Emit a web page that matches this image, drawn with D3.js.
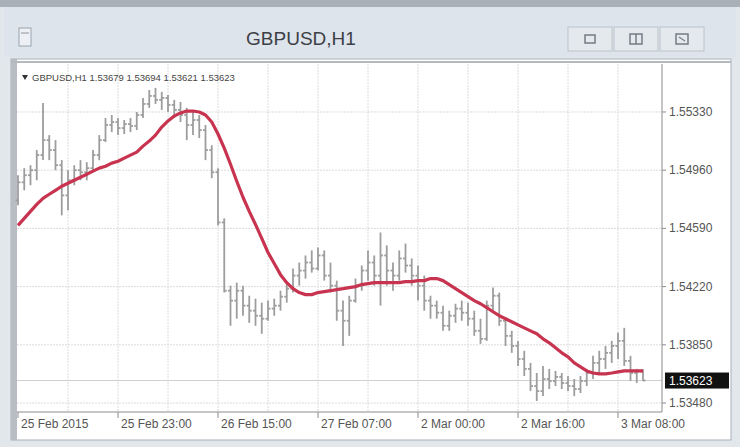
<!DOCTYPE html>
<html>
<head>
<meta charset="utf-8">
<script src="https://cdn.jsdelivr.net/npm/d3@7"></script>
<style>
    body { margin: 0; background: #e2e7ec; }
    svg { display: block; font-family: "Liberation Sans", Arial, sans-serif; }
</style>
</head>
<body>
<svg id="chart" width="740" height="447"></svg>
<script>
// chart title and axis texts
var symbol = "GBPUSD,H1";
var timeLabels = ["25 Feb 2015", "25 Feb 23:00", "26 Feb 15:00", "27 Feb 07:00", "2 Mar 00:00", "2 Mar 16:00", "3 Mar 08:00"];
var labelBars = [0, 16, 32, 48, 64, 80, 96];
var priceTicks = [1.55330, 1.54960, 1.54590, 1.54220, 1.53850, 1.53480];

// hourly bars
var openPrices = [
    1.54769, 1.54883, 1.54928, 1.54960, 1.55056, 1.55151, 1.55088, 1.54992, 1.54800, 1.54896,
    1.54960, 1.54947, 1.54973, 1.55056, 1.55151, 1.55247, 1.55266, 1.55228, 1.55253, 1.55241,
    1.55311, 1.55381, 1.55432, 1.55407, 1.55419, 1.55375, 1.55343, 1.55311, 1.55247, 1.55279,
    1.55215, 1.55088, 1.54947, 1.54628, 1.54194, 1.54131, 1.54194, 1.54099, 1.54067, 1.54035,
    1.54016, 1.54080, 1.54099, 1.54156, 1.54207, 1.54290, 1.54322, 1.54373, 1.54335, 1.54418,
    1.54290, 1.54226, 1.54067, 1.54003, 1.54131, 1.54226, 1.54322, 1.54373, 1.54290, 1.54418,
    1.54322, 1.54290, 1.54399, 1.54354, 1.54290, 1.54226, 1.54131, 1.54099, 1.54054, 1.53971,
    1.54035, 1.54080, 1.54054, 1.54016, 1.53939, 1.53888, 1.54099, 1.54162, 1.54003, 1.53907,
    1.53843, 1.53760, 1.53697, 1.53588, 1.53556, 1.53633, 1.53620, 1.53646, 1.53607, 1.53588,
    1.53569, 1.53620, 1.53671, 1.53735, 1.53760, 1.53799, 1.53843, 1.53875, 1.53748, 1.53671,
    1.53679
];
var highPrices = [
    1.54928, 1.54973, 1.54992, 1.55088, 1.55387, 1.55183, 1.55151, 1.55024, 1.54960, 1.54992,
    1.55024, 1.55011, 1.55088, 1.55183, 1.55292, 1.55311, 1.55292, 1.55279, 1.55292, 1.55330,
    1.55419, 1.55470, 1.55483, 1.55458, 1.55438, 1.55407, 1.55394, 1.55356, 1.55330, 1.55311,
    1.55247, 1.55119, 1.54973, 1.54654, 1.54226, 1.54245, 1.54226, 1.54162, 1.54143, 1.54118,
    1.54131, 1.54143, 1.54194, 1.54245, 1.54335, 1.54373, 1.54418, 1.54450, 1.54469, 1.54450,
    1.54373, 1.54258, 1.54131, 1.54162, 1.54271, 1.54354, 1.54450, 1.54418, 1.54564, 1.54482,
    1.54373, 1.54450, 1.54494, 1.54399, 1.54354, 1.54290, 1.54162, 1.54131, 1.54099, 1.54067,
    1.54111, 1.54131, 1.54118, 1.54067, 1.54016, 1.54131, 1.54214, 1.54182, 1.54016, 1.53939,
    1.53875, 1.53812, 1.53735, 1.53671, 1.53716, 1.53697, 1.53684, 1.53671, 1.53652, 1.53633,
    1.53652, 1.53697, 1.53780, 1.53812, 1.53843, 1.53875, 1.53926, 1.53958, 1.53780, 1.53697,
    1.53694
];
var lowPrices = [
    1.54737, 1.54832, 1.54864, 1.54896, 1.55024, 1.55024, 1.54960, 1.54673, 1.54705, 1.54864,
    1.54896, 1.54896, 1.54947, 1.55024, 1.55139, 1.55202, 1.55183, 1.55190, 1.55202, 1.55215,
    1.55292, 1.55356, 1.55381, 1.55343, 1.55330, 1.55292, 1.55266, 1.55151, 1.55183, 1.55164,
    1.55024, 1.54909, 1.54609, 1.54182, 1.53971, 1.54016, 1.54035, 1.53990, 1.53971, 1.53920,
    1.54003, 1.54035, 1.54067, 1.54118, 1.54182, 1.54226, 1.54271, 1.54309, 1.54322, 1.54258,
    1.54182, 1.54003, 1.53843, 1.53907, 1.54118, 1.54194, 1.54258, 1.54226, 1.54099, 1.54226,
    1.54194, 1.54258, 1.54309, 1.54226, 1.54131, 1.54067, 1.54016, 1.54016, 1.53939, 1.53939,
    1.53990, 1.54003, 1.53971, 1.53907, 1.53856, 1.53875, 1.54067, 1.53971, 1.53843, 1.53799,
    1.53716, 1.53652, 1.53556, 1.53493, 1.53524, 1.53569, 1.53588, 1.53569, 1.53556, 1.53524,
    1.53544, 1.53588, 1.53633, 1.53671, 1.53697, 1.53735, 1.53760, 1.53716, 1.53620, 1.53607,
    1.53621
];
var closePrices = [
    1.54883, 1.54928, 1.54960, 1.55056, 1.55151, 1.55088, 1.54992, 1.54800, 1.54896, 1.54960,
    1.54947, 1.54973, 1.55056, 1.55151, 1.55247, 1.55266, 1.55228, 1.55253, 1.55241, 1.55311,
    1.55381, 1.55432, 1.55407, 1.55419, 1.55375, 1.55343, 1.55311, 1.55247, 1.55279, 1.55215,
    1.55088, 1.54947, 1.54628, 1.54194, 1.54131, 1.54194, 1.54099, 1.54067, 1.54035, 1.54016,
    1.54080, 1.54099, 1.54156, 1.54207, 1.54290, 1.54322, 1.54373, 1.54335, 1.54418, 1.54290,
    1.54226, 1.54067, 1.54003, 1.54131, 1.54226, 1.54322, 1.54373, 1.54290, 1.54418, 1.54322,
    1.54290, 1.54399, 1.54354, 1.54290, 1.54226, 1.54131, 1.54099, 1.54054, 1.53971, 1.54035,
    1.54080, 1.54054, 1.54016, 1.53939, 1.53888, 1.54099, 1.54162, 1.54003, 1.53907, 1.53843,
    1.53760, 1.53697, 1.53588, 1.53556, 1.53633, 1.53620, 1.53646, 1.53607, 1.53588, 1.53569,
    1.53620, 1.53671, 1.53735, 1.53760, 1.53799, 1.53843, 1.53875, 1.53748, 1.53671, 1.53679,
    1.53623
];
// moving average (red line)
var maValues = [
    1.54609, 1.54654, 1.54698, 1.54743, 1.54781, 1.54807, 1.54832, 1.54858, 1.54877, 1.54896,
    1.54915, 1.54934, 1.54954, 1.54973, 1.54985, 1.55005, 1.55017, 1.55037, 1.55056, 1.55075,
    1.55113, 1.55145, 1.55183, 1.55234, 1.55273, 1.55304, 1.55324, 1.55336, 1.55336, 1.55330,
    1.55311, 1.55266, 1.55190, 1.55100, 1.54998, 1.54890, 1.54788, 1.54698, 1.54615, 1.54526,
    1.54437, 1.54367, 1.54296, 1.54245, 1.54207, 1.54182, 1.54169, 1.54169, 1.54182, 1.54188,
    1.54194, 1.54201, 1.54207, 1.54214, 1.54220, 1.54233, 1.54239, 1.54245, 1.54245, 1.54245,
    1.54245, 1.54245, 1.54252, 1.54252, 1.54258, 1.54258, 1.54271, 1.54271, 1.54258, 1.54233,
    1.54207, 1.54182, 1.54156, 1.54131, 1.54111, 1.54086, 1.54060, 1.54035, 1.54016, 1.53997,
    1.53977, 1.53958, 1.53939, 1.53920, 1.53888, 1.53863, 1.53831, 1.53799, 1.53773, 1.53735,
    1.53710, 1.53684, 1.53671, 1.53665, 1.53665, 1.53671, 1.53678, 1.53684, 1.53684, 1.53684,
    1.53684
];

var svg = d3.select("#chart");

// plot box inside the chart window
var plot = { left: 17, right: 662, top: 64, bottom: 412 };
var barStep = 6.25;
var n = closePrices.length;

var xScale = d3.scaleLinear()
    .domain([0, n - 1])
    .range([plot.left + 1, plot.left + 1 + barStep * (n - 1)]);
var yScale = d3.scaleLinear()
    .domain([1.53423, 1.55635])
    .range([plot.bottom, plot.top]);

// ---- window frame ----
svg.append("rect").attr("x", 0).attr("y", 0).attr("width", 740).attr("height", 447).attr("fill", "#e2e7ec");
svg.append("rect").attr("x", 0).attr("y", 0).attr("width", 740).attr("height", 7).attr("fill", "#aab0b7");
svg.append("rect").attr("x", 4).attr("y", 7).attr("width", 732).attr("height", 50).attr("fill", "#dde4eb");

// window icon
svg.append("rect").attr("x", 19).attr("y", 28).attr("width", 12).attr("height", 18)
    .attr("fill", "#edf1f5").attr("stroke", "#9aa4ae");
svg.append("line").attr("x1", 21).attr("x2", 29).attr("y1", 33).attr("y2", 33).attr("stroke", "#8a949e");

svg.append("text")
    .attr("x", 301).attr("y", 45)
    .attr("text-anchor", "middle")
    .attr("font-size", 19)
    .attr("fill", "#3c4046")
    .text(symbol);

// minimize / restore / close buttons
var btnX = [568, 614, 660];
btnX.forEach(function (bx, i) {
    svg.append("rect").attr("x", bx).attr("y", 27).attr("width", 44).attr("height", 24)
        .attr("fill", "#e4e9ee").attr("stroke", "#bcc4cc");
    var cx = bx + 22, cy = 39;
    if (i === 0) {
        svg.append("rect").attr("x", cx - 5).attr("y", cy - 4).attr("width", 10).attr("height", 8)
            .attr("fill", "none").attr("stroke", "#737b84").attr("stroke-width", 1.5);
    } else if (i === 1) {
        svg.append("rect").attr("x", cx - 6).attr("y", cy - 5).attr("width", 12).attr("height", 10)
            .attr("fill", "none").attr("stroke", "#737b84").attr("stroke-width", 1.5);
        svg.append("line").attr("x1", cx).attr("x2", cx).attr("y1", cy - 5).attr("y2", cy + 5)
            .attr("stroke", "#737b84").attr("stroke-width", 1.5);
    } else {
        svg.append("rect").attr("x", cx - 6).attr("y", cy - 5).attr("width", 12).attr("height", 10)
            .attr("fill", "none").attr("stroke", "#737b84").attr("stroke-width", 1.5);
        svg.append("line").attr("x1", cx - 3).attr("x2", cx + 3).attr("y1", cy - 2).attr("y2", cy + 2)
            .attr("stroke", "#737b84").attr("stroke-width", 1.2);
    }
});

// chart panel
svg.append("rect").attr("x", 11).attr("y", 59).attr("width", 720).attr("height", 381)
    .attr("fill", "#ffffff").attr("stroke", "#a9afb6");
svg.append("rect").attr("x", 11).attr("y", 59).attr("width", 6).attr("height", 381).attr("fill", "#b9bdc3");
svg.append("line").attr("x1", 11).attr("x2", 731).attr("y1", 62).attr("y2", 62).attr("stroke", "#b4b9bf").attr("stroke-width", 2);

// ---- grid ----
var grid = svg.append("g").attr("stroke", "#dcdcdc").attr("stroke-width", 1).attr("stroke-dasharray", "2,1");
grid.selectAll(".vg")
    .data(d3.range(8, n, 8))
    .enter().append("line")
    .attr("x1", function (d) { return xScale(d); })
    .attr("x2", function (d) { return xScale(d); })
    .attr("y1", plot.top).attr("y2", plot.bottom);
grid.selectAll(".hg")
    .data(priceTicks)
    .enter().append("line")
    .attr("x1", plot.left).attr("x2", plot.right)
    .attr("y1", function (d) { return yScale(d); })
    .attr("y2", function (d) { return yScale(d); });

// bid line
svg.append("line")
    .attr("x1", plot.left).attr("x2", plot.right)
    .attr("y1", yScale(closePrices[n - 1])).attr("y2", yScale(closePrices[n - 1]))
    .attr("stroke", "#cfcfcf");

// ---- OHLC bars ----
var bars = svg.append("g").attr("stroke", "#9d9d9d").attr("stroke-width", 1.8);
d3.range(n).forEach(function (i) {
    var bx = xScale(i);
    bars.append("line").attr("x1", bx).attr("x2", bx)
        .attr("y1", yScale(highPrices[i])).attr("y2", yScale(lowPrices[i]));
    bars.append("line").attr("x1", bx - 2.5).attr("x2", bx)
        .attr("y1", yScale(openPrices[i])).attr("y2", yScale(openPrices[i]));
    bars.append("line").attr("x1", bx).attr("x2", bx + 2.5)
        .attr("y1", yScale(closePrices[i])).attr("y2", yScale(closePrices[i]));
});

// ---- moving average ----
var maLine = d3.line()
    .x(function (d, i) { return xScale(i); })
    .y(function (d) { return yScale(d); });
svg.append("path")
    .datum(maValues)
    .attr("d", maLine)
    .attr("fill", "none")
    .attr("stroke", "#c8334f")
    .attr("stroke-width", 3.2)
    .attr("stroke-linejoin", "round");

// ---- axes ----
svg.append("line").attr("x1", plot.right).attr("x2", plot.right).attr("y1", plot.top).attr("y2", plot.bottom)
    .attr("stroke", "#8c8c8c");
svg.append("line").attr("x1", plot.left).attr("x2", plot.right).attr("y1", plot.bottom).attr("y2", plot.bottom)
    .attr("stroke", "#8c8c8c");

var yAxis = svg.append("g");
yAxis.selectAll("line")
    .data(priceTicks)
    .enter().append("line")
    .attr("x1", plot.right).attr("x2", plot.right + 4)
    .attr("y1", function (d) { return yScale(d); })
    .attr("y2", function (d) { return yScale(d); })
    .attr("stroke", "#8c8c8c");
yAxis.selectAll("text")
    .data(priceTicks)
    .enter().append("text")
    .attr("x", plot.right + 7)
    .attr("y", function (d) { return yScale(d) + 4; })
    .attr("font-size", 12)
    .attr("fill", "#555")
    .text(function (d) { return d.toFixed(5); });

// current price box
var lastY = yScale(closePrices[n - 1]);
svg.append("rect").attr("x", plot.right + 3).attr("y", lastY - 8).attr("width", 64).attr("height", 16).attr("fill", "#111");
svg.append("text").attr("x", plot.right + 7).attr("y", lastY + 4)
    .attr("font-size", 12).attr("fill", "#fff")
    .text(closePrices[n - 1].toFixed(5));

var xAxis = svg.append("g");
xAxis.selectAll("line")
    .data(labelBars)
    .enter().append("line")
    .attr("x1", function (d) { return xScale(d); })
    .attr("x2", function (d) { return xScale(d); })
    .attr("y1", plot.bottom).attr("y2", plot.bottom + 6)
    .attr("stroke", "#8c8c8c");
xAxis.selectAll("text")
    .data(labelBars)
    .enter().append("text")
    .attr("x", function (d) { return xScale(d) + 3; })
    .attr("y", plot.bottom + 16)
    .attr("font-size", 12)
    .attr("fill", "#555")
    .text(function (d, i) { return timeLabels[i]; });

// legend
svg.append("path").attr("d", "M22,75 L28,75 L25,80 Z").attr("fill", "#333");
svg.append("text")
    .attr("x", 32).attr("y", 81)
    .attr("font-size", 9.5)
    .attr("fill", "#444")
    .text(symbol + "  " + openPrices[n - 1].toFixed(5) + " " + highPrices[n - 1].toFixed(5) + " " +
        lowPrices[n - 1].toFixed(5) + " " + closePrices[n - 1].toFixed(5));
</script>
</body>
</html>
